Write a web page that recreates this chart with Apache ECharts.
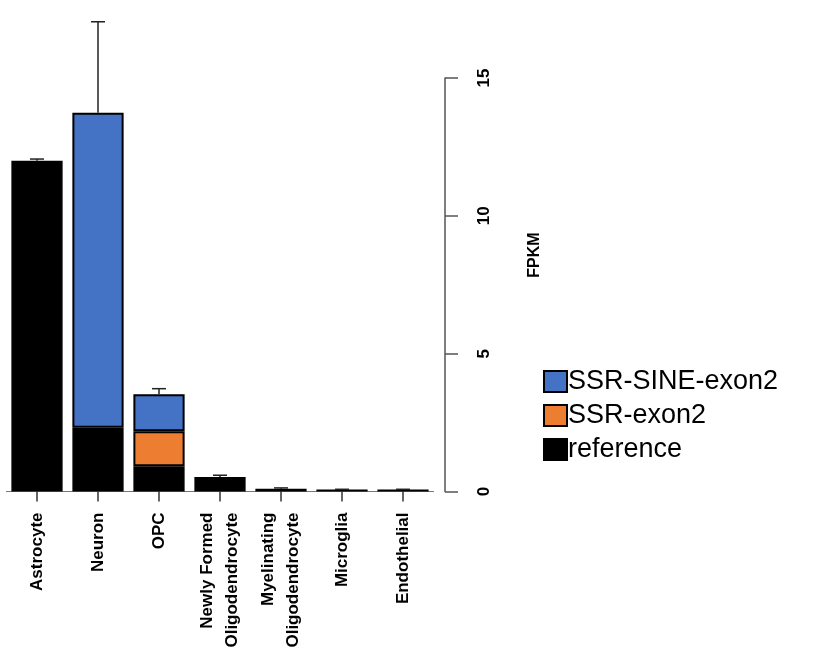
<!DOCTYPE html>
<html>
<head>
<meta charset="utf-8">
<script src="https://cdn.jsdelivr.net/npm/echarts@6/dist/echarts.min.js"></script>
<style>
  html, body { margin: 0; padding: 0; background: #fff; }
  #chart { width: 822px; height: 664px; }
</style>
</head>
<body>
<div id="chart"></div>
<script>
// Cell types along the x axis
const categories = ['Astrocyte', 'Neuron', 'OPC', 'Newly Formed\nOligodendrocyte',
  'Myelinating\nOligodendrocyte', 'Microglia', 'Endothelial'];

// FPKM per isoform (stacked: reference, SSR-exon2, SSR-SINE-exon2)
const referenceVals = [12.0, 2.31, 0.92, 0.53, 0.10, 0.07, 0.07];
const ssrExon2Vals = [0, 0, 1.27, 0, 0, 0, 0];
const ssrSineExon2Vals = [0, 11.43, 1.34, 0, 0, 0, 0];

// Error on the stacked total
const totalErr = [0.06, 3.3, 0.2, 0.06, 0.03, 0.01, 0.01];

// Y axis ticks
const yTicks = [0, 5, 10, 15];

const totals = referenceVals.map((v, i) => v + ssrExon2Vals[i] + ssrSineExon2Vals[i]);
const errData = totals.map((t, i) => [i, t, t + totalErr[i]]);

const nz = arr => arr.map(v => (v === 0 ? '-' : v));

const chart = echarts.init(document.getElementById('chart'));
const fontFam = 'Liberation Sans, Arial, sans-serif';

chart.setOption({
  animation: false,
  backgroundColor: '#ffffff',
  grid: { left: 6.5, right: 388.5, top: 78, bottom: 172.5, containLabel: false },
  legend: {
    orient: 'vertical',
    left: 543,
    top: 368,
    padding: 0,
    icon: 'rect',
    itemWidth: 23,
    itemHeight: 21,
    itemGap: 7,
    data: ['SSR-SINE-exon2', 'SSR-exon2', 'reference'],
    textStyle: { fontFamily: fontFam, fontSize: 27, color: '#000', padding: [0, 0, 0, -4] }
  },
  xAxis: {
    type: 'category',
    data: categories,
    boundaryGap: true,
    axisLine: { show: true, lineStyle: { color: '#777', width: 1 } },
    axisTick: { show: true, alignWithLabel: true, length: 10, lineStyle: { color: '#333', width: 1.5 } },
    axisLabel: {
      rotate: 90,
      interval: 0,
      margin: 21,
      fontFamily: fontFam,
      fontWeight: 'bold',
      fontSize: 17,
      lineHeight: 25,
      color: '#000'
    }
  },
  yAxis: {
    type: 'value',
    position: 'right',
    offset: 11.5,
    min: 0,
    max: 15,
    interval: 5,
    splitLine: { show: false },
    axisLine: { show: true, lineStyle: { color: '#555', width: 1.5 } },
    axisTick: { show: true, inside: false, length: 13, lineStyle: { color: '#555', width: 1.5 } },
    axisLabel: {
      rotate: 90,
      margin: 31,
      fontFamily: fontFam,
      fontWeight: 'bold',
      fontSize: 17,
      color: '#000',
      customValues: yTicks
    }
  },
  graphic: [{
    type: 'text',
    x: 535,
    y: 255,
    rotation: Math.PI / 2,
    style: {
      text: 'FPKM',
      fontFamily: fontFam,
      fontWeight: 'bold',
      fontSize: 16,
      fill: '#000',
      align: 'center',
      verticalAlign: 'middle'
    }
  }],
  series: [
    {
      name: 'reference',
      type: 'bar',
      stack: 'total',
      barCategoryGap: '16%',
      data: referenceVals,
      itemStyle: { color: '#000000', borderColor: '#000', borderWidth: 1.5 }
    },
    {
      name: 'SSR-exon2',
      type: 'bar',
      stack: 'total',
      data: nz(ssrExon2Vals),
      itemStyle: { color: '#ED7D31', borderColor: '#000', borderWidth: 2 }
    },
    {
      name: 'SSR-SINE-exon2',
      type: 'bar',
      stack: 'total',
      data: nz(ssrSineExon2Vals),
      itemStyle: { color: '#4472C4', borderColor: '#000', borderWidth: 2 }
    },
    {
      name: 'error',
      type: 'custom',
      clip: false,
      silent: true,
      data: errData,
      encode: { x: 0, y: [1, 2] },
      renderItem: function (params, api) {
        const x = api.value(0);
        const p0 = api.coord([x, api.value(1)]);
        const p1 = api.coord([x, api.value(2)]);
        const half = 7;
        const style = { stroke: '#222', lineWidth: 1.5, fill: null };
        return {
          type: 'group',
          children: [
            { type: 'line', shape: { x1: p0[0], y1: p0[1], x2: p1[0], y2: p1[1] }, style: style },
            { type: 'line', shape: { x1: p1[0] - half, y1: p1[1], x2: p1[0] + half, y2: p1[1] }, style: style }
          ]
        };
      },
      z: 5
    }
  ]
});
</script>
</body>
</html>
